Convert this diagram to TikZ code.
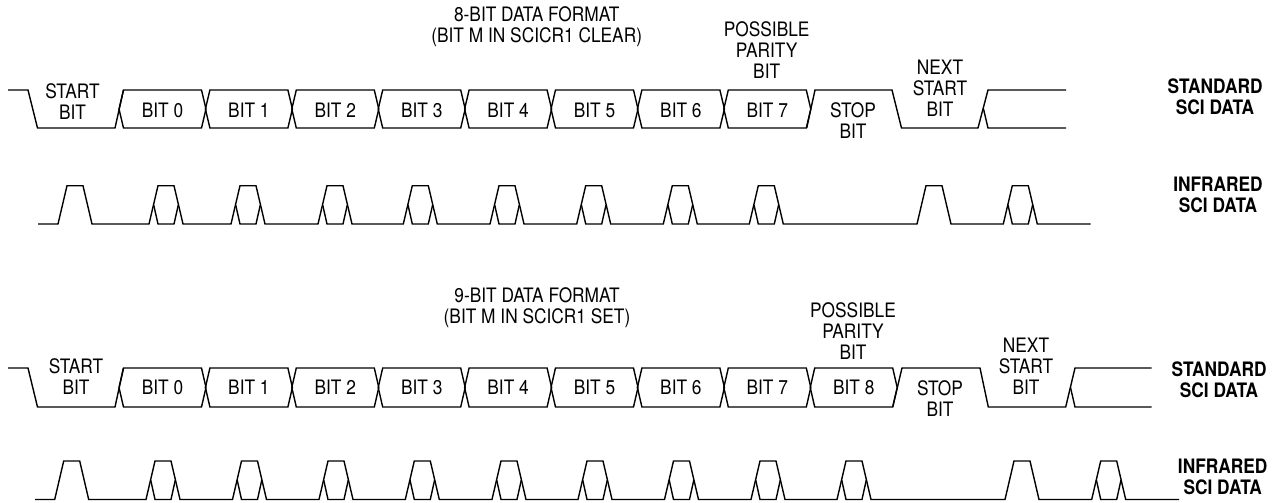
\documentclass[tikz,border=0pt]{standalone}
\usepackage{fontspec}
\setmainfont[FakeStretch=0.87]{TeX Gyre Heros}
\begin{document}
\begin{tikzpicture}[x=0.5pt,y=-0.5pt,line width=0.7pt,
  every node/.style={inner sep=0pt,align=center,font=\fontsize{9.95}{10.5}\selectfont},
  sidelabel/.style={font=\fontsize{9.95}{10.5}\selectfont\bfseries}]
\useasboundingbox (0,0) rectangle (1276,503);
% 8-bit format
\node (titleA) at (536.7,26.3) {8-BIT DATA FORMAT\\(BIT M IN SCICR1 CLEAR)};
\node (parityA) at (766.7,50) {POSSIBLE\\PARITY\\BIT};
\node (startA) at (72.5,102) {START\\BIT};
\node (stopA) at (853,120.3) {STOP\\BIT};
\node (nextA) at (940,88.5) {NEXT\\START\\BIT};
\node[sidelabel] (stdA) at (1215,96.7) {STANDARD\\SCI DATA};
\node[sidelabel] (irA) at (1218,194.5) {INFRARED\\SCI DATA};
\draw (8,90)--(28,90)--(37.5,128)--(115,128)--(123.5,90);
\foreach \i in {0,...,7} {
  \draw (123.5+86.4*\i,90)--(201.5+86.4*\i,90)--(206+86.4*\i,109)--(201.5+86.4*\i,128)--(123.5+86.4*\i,128)--(119+86.4*\i,109)--cycle;
  \node (bitA\i) at (162.5+86.4*\i,110.7) {BIT \i};
}
\draw (806.7,128)--(815,90)--(892,90)--(901.5,128)--(978,128)--(988,90)--(1066,90);
\draw (1066,128)--(988,128)--(983.5,109);
% infrared, 8-bit
\draw (38,224) foreach \x in {58,149,231,318,403.3,490,576.7,663.3,749.3,917,1003.3} {--(\x,224)--(\x+9,185.7)--(\x+25,185.7)--(\x+34,224)} --(1090.7,224);
\foreach \x in {149,231,318,403.3,490,576.7,663.3,749.3,1003.3}
  \draw (\x+4.7,205)--(\x+9,224)--(\x+25,224)--(\x+29.3,205);
% 9-bit format
\node (titleB) at (537,307.2) {9-BIT DATA FORMAT\\(BIT M IN SCICR1 SET)};
\node (parityB) at (853,331) {POSSIBLE\\PARITY\\BIT};
\node (startB) at (76,376.2) {START\\BIT};
\node (stopB) at (940,398.5) {STOP\\BIT};
\node (nextB) at (1026,365.8) {NEXT\\START\\BIT};
\node[sidelabel] (stdB) at (1219,379.5) {STANDARD\\SCI DATA};
\node[sidelabel] (irB) at (1222.7,477.3) {INFRARED\\SCI DATA};
\draw (8,368)--(28,368)--(37.5,407)--(115,407)--(123.5,368);
\foreach \i in {0,...,8} {
  \draw (123.5+86.4*\i,368)--(201.5+86.4*\i,368)--(206+86.4*\i,387.5)--(201.5+86.4*\i,407)--(123.5+86.4*\i,407)--(119+86.4*\i,387.5)--cycle;
  \node (bitB\i) at (162.5+86.4*\i,387.7) {BIT \i};
}
\draw (892.7,407)--(902,368)--(980,368)--(988.3,407)--(1065.7,407)--(1075,368)--(1151.7,368);
\draw (1151.7,407)--(1075,407)--(1070.5,387.5);
% infrared, 9-bit
\draw (35,499.5) foreach \x in {54.7,146,232.5,319,405.3,492,578,664.5,751,837,1005,1091.7} {--(\x,499.5)--(\x+9,461)--(\x+25,461)--(\x+34,499.5)} --(1179,499.5);
\foreach \x in {146,232.5,319,405.3,492,578,664.5,751,837,1091.7}
  \draw (\x+4.7,480)--(\x+9,499.5)--(\x+25,499.5)--(\x+29.3,480);
\end{tikzpicture}
\end{document}
